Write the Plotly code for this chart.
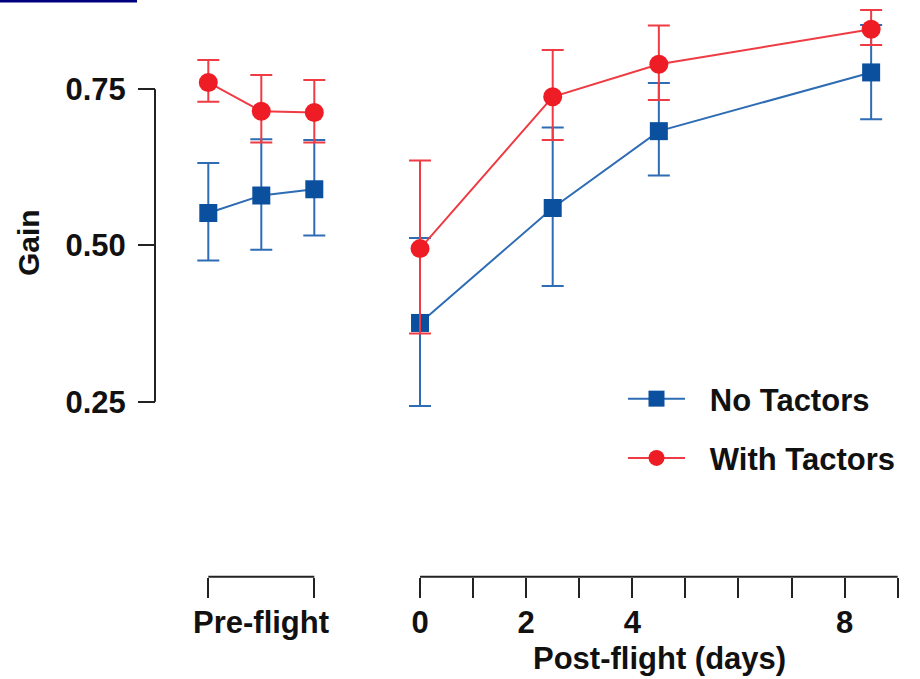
import plotly.graph_objects as go

# ---- data ----
pre_x = [0, 1, 2]
post_days = [0, 2.5, 4.5, 8.5]

no_pre = [0.552, 0.580, 0.590]
no_pre_up = [0.080, 0.090, 0.079]
no_pre_dn = [0.076, 0.087, 0.074]

with_pre = [0.761, 0.715, 0.713]
with_pre_up = [0.036, 0.058, 0.052]
with_pre_dn = [0.031, 0.050, 0.048]

no_post = [0.376, 0.560, 0.683, 0.777]
no_post_up = [0.136, 0.129, 0.077, 0.076]
no_post_dn = [0.133, 0.125, 0.071, 0.075]

with_post = [0.495, 0.738, 0.790, 0.846]
with_post_up = [0.141, 0.075, 0.062, 0.031]
with_post_dn = [0.136, 0.069, 0.057, 0.025]

y_ticks = [0.25, 0.50, 0.75]
y_ticktext = ["0.25", "0.50", "0.75"]
pre_ticks = [0, 2]
post_ticks = [0, 1, 2, 3, 4, 5, 6, 7, 8, 9]
post_ticktext = ["0", "", "2", "", "4", "", "", "", "8", ""]

series_names = ["No Tactors", "With Tactors"]

# ---- style ----
W, H = 920, 679
FONT = "Liberation Sans, Arial, sans-serif"
FS = 31
BLUE_M = "#0B4F9F"
BLUE_L = "#2E6CB4"
RED_M = "#EE1D25"
RED_L = "#EF3B43"
AXC = "#222222"
TXT = "#111111"

def px_x(p):
    return p / W

def px_y(p):
    return 1 - p / H

fig = go.Figure()

def add(xv, yv, up, dn, xa, name, mcol, lcol, sym, show):
    fig.add_trace(go.Scatter(
        x=xv, y=yv, xaxis=xa, yaxis="y",
        mode="lines+markers", name="\u00a0\u00a0\u200a" + name, legendgroup=name,
        showlegend=show,
        line=dict(color=lcol, width=2),
        marker=dict(symbol=sym, size=19 if sym == "circle" else 18, color=mcol,
                    line=dict(width=0)),
        error_y=dict(type="data", symmetric=False, array=up, arrayminus=dn,
                     color=lcol, thickness=2, width=11),
        cliponaxis=False,
    ))

add(pre_x, no_pre, no_pre_up, no_pre_dn, "x", series_names[0], BLUE_M, BLUE_L, "square", False)
add(post_days, no_post, no_post_up, no_post_dn, "x2", series_names[0], BLUE_M, BLUE_L, "square", True)
add(pre_x, with_pre, with_pre_up, with_pre_dn, "x", series_names[1], RED_M, RED_L, "circle", False)
add(post_days, with_post, with_post_up, with_post_dn, "x2", series_names[1], RED_M, RED_L, "circle", True)

AX_Y = 576.7          # pixel row of the x axes
x_free_pos = px_y(AX_Y)
UNIT = 53.0           # pixels per x unit
PAD = 0.4             # extra range so end caps are not clipped

tickfont = dict(family=FONT, size=FS, color=TXT, weight="bold")

fig.update_layout(
    template="none",
    width=W, height=H,
    margin=dict(l=0, r=0, t=0, b=0, pad=0, autoexpand=False),
    paper_bgcolor="white", plot_bgcolor="white",
    font=dict(family=FONT, size=FS, color=TXT),
    showlegend=True,
    legend=dict(x=px_x(623), y=px_y(372), xanchor="left", yanchor="top",
                font=tickfont, tracegroupgap=16, itemwidth=57,
                bgcolor="rgba(0,0,0,0)", borderwidth=0),
    xaxis=dict(domain=[px_x(208.3 - PAD * UNIT), px_x(314.3 + PAD * UNIT)],
               range=[pre_ticks[0] - PAD, pre_ticks[-1] + PAD], anchor="free",
               position=x_free_pos, showline=False,
               ticks="outside", ticklen=20, tickwidth=2, tickcolor=AXC,
               tickvals=pre_ticks, ticktext=["", ""], showgrid=False, zeroline=False,
               automargin=False),
    xaxis2=dict(domain=[px_x(420 - PAD * UNIT), px_x(897.7 + PAD * UNIT)],
                range=[post_ticks[0] - PAD, post_ticks[-1] + PAD], anchor="free",
                position=x_free_pos, showline=False,
                ticks="outside", ticklen=20, tickwidth=2, tickcolor=AXC,
                tickvals=post_ticks, ticktext=post_ticktext,
                tickfont=tickfont, ticklabelstandoff=-2,
                showgrid=False, zeroline=False, automargin=False),
    yaxis=dict(domain=[px_y(495.4), px_y(1.83)], range=[0.1, 0.89],
               anchor="free", position=px_x(155), showline=False,
               ticks="outside", ticklen=17, tickwidth=2, tickcolor=AXC,
               tickvals=y_ticks, ticktext=y_ticktext,
               tickfont=tickfont, ticklabelstandoff=6,
               showgrid=False, zeroline=False, automargin=False),
)

# axis lines spanning only the labelled ranges
fig.add_shape(type="line", xref="paper", yref="y",
              x0=px_x(155), x1=px_x(155), y0=y_ticks[0], y1=y_ticks[-1],
              line=dict(color=AXC, width=2))
fig.add_shape(type="line", xref="x", yref="paper",
              x0=pre_ticks[0], x1=pre_ticks[-1], y0=x_free_pos, y1=x_free_pos,
              line=dict(color=AXC, width=2))
fig.add_shape(type="line", xref="x2", yref="paper",
              x0=post_ticks[0], x1=post_ticks[-1], y0=x_free_pos, y1=x_free_pos,
              line=dict(color=AXC, width=2))

# navy stripe in the top-left corner
fig.add_shape(type="rect", xref="paper", yref="paper",
              x0=0, x1=px_x(137), y0=px_y(2.5), y1=1,
              line=dict(width=0), fillcolor="#00007F")

fig.add_annotation(text="Gain", xref="paper", yref="paper", x=px_x(28), y=px_y(243),
                   textangle=-90, showarrow=False, xanchor="center", yanchor="middle",
                   font=dict(family=FONT, size=30, color=TXT, weight="bold"))
fig.add_annotation(text="Pre-flight", xref="paper", yref="paper", x=px_x(261.3), y=px_y(622),
                   showarrow=False, xanchor="center", yanchor="middle", font=tickfont)
fig.add_annotation(text="Post-flight (days)", xref="paper", yref="paper", x=px_x(659), y=px_y(658),
                   showarrow=False, xanchor="center", yanchor="middle", font=tickfont)

fig.write_html(
    "out.html",
    config={"displayModeBar": False},
    post_script="document.body.style.margin='0';document.body.style.padding='0';",
)
